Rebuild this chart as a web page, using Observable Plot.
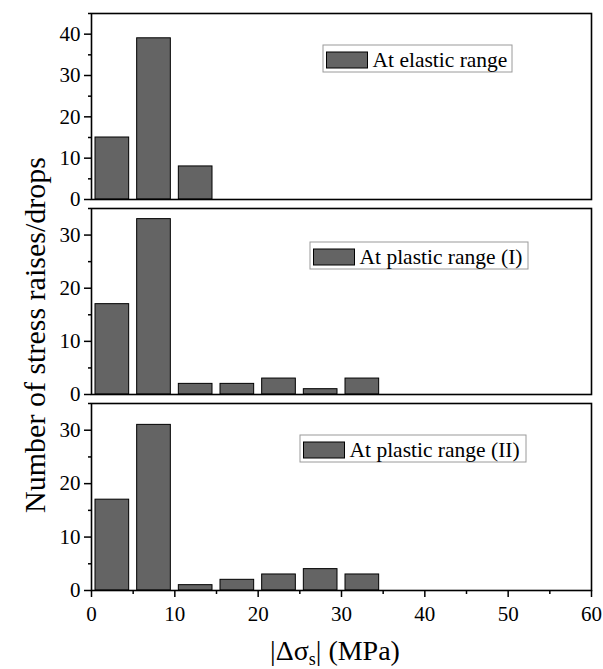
<!DOCTYPE html>
<html>
<head>
<meta charset="utf-8">
<script src="https://cdn.jsdelivr.net/npm/d3@7"></script>
<script src="https://cdn.jsdelivr.net/npm/@observablehq/plot@0.6"></script>
<style>
  html, body { margin: 0; padding: 0; background: white; }
  #wrap { position: relative; width: 603px; height: 669px; }
  #wrap > .panel { position: absolute; left: 0; }
  #overlay { position: absolute; left: 0; top: 0; pointer-events: none; }
</style>
</head>
<body>
<div id="wrap"></div>
<script>
// ---- data ----
const binStarts = [0, 5, 10, 15, 20, 25, 30];
const binWidth = 5;
const elasticCounts = [15, 39, 8];
const plasticICounts = [17, 33, 2, 2, 3, 1, 3];
const plasticIICounts = [17, 31, 1, 2, 3, 4, 3];
const panelLabels = ["At elastic range", "At plastic range (I)", "At plastic range (II)"];
const yDomains = [[0, 45], [0, 35], [0, 35]];
const yMajorTicks = [[0, 10, 20, 30, 40], [0, 10, 20, 30], [0, 10, 20, 30]];
const yMinorTicks = [[5, 15, 25, 35, 45], [5, 15, 25, 35], [5, 15, 25, 35]];
const xMajorTicks = [0, 10, 20, 30, 40, 50, 60];
const xMinorTicks = [5, 15, 25, 35, 45, 55];
const yTitle = "Number of stress raises/drops";

const series = [elasticCounts, plasticICounts, plasticIICounts];
const FONT = "Liberation Serif";
const BAR_FILL = "#646464";

// panel layout: [top offset, height, marginTop, marginBottom]
const layout = [[0, 204, 13, 5], [204, 195, 4, 5], [399, 270, 4, 79]];

const wrap = document.getElementById("wrap");

series.forEach((counts, i) => {
  const data = counts.map((c, j) => ({start: binStarts[j], end: binStarts[j] + binWidth, count: c}));
  const [top, h, mt, mb] = layout[i];
  const isBottom = i === series.length - 1;
  const marks = [
    Plot.rectY(data, {x1: "start", x2: "end", y: "count", fill: BAR_FILL, stroke: "black", strokeWidth: 1, insetLeft: 4, insetRight: 4}),
    Plot.axisY({ticks: yMajorTicks[i], tickSize: 7, tickPadding: 4, label: null, strokeWidth: 1.5, fontFamily: FONT}),
    Plot.axisY({ticks: yMinorTicks[i], tickSize: 3, tickFormat: () => "", label: null, strokeWidth: 1.5}),
    Plot.frame({stroke: "black", strokeWidth: 1.6})
  ];
  if (isBottom) {
    marks.push(Plot.axisX({ticks: xMajorTicks, tickSize: 7, tickPadding: 9, label: null, strokeWidth: 1.5, fontFamily: FONT}));
    marks.push(Plot.axisX({ticks: xMinorTicks, tickSize: 4, tickFormat: () => "", label: null, strokeWidth: 1.5}));
  }
  const chart = Plot.plot({
    width: 603,
    height: h,
    marginLeft: 91,
    marginRight: 12,
    marginTop: mt,
    marginBottom: mb,
    style: {fontFamily: FONT, fontSize: "21px", overflow: "visible", background: "transparent", color: "black"},
    x: {domain: [0, 60], ...(isBottom ? {} : {axis: null})},
    y: {domain: yDomains[i], label: null},
    marks
  });
  chart.classList.add("panel");
  chart.style.top = top + "px";
  wrap.appendChild(chart);
});

// ---- overlay: legends and axis titles ----
const svg = d3.select(wrap).append("svg")
  .attr("id", "overlay")
  .attr("width", 603).attr("height", 669)
  .attr("font-family", FONT);

const legendBoxes = [[323, 45, 189, 27], [310, 242, 218, 27], [300, 435, 226, 27]];
legendBoxes.forEach(([bx, by, bw, bh], i) => {
  const g = svg.append("g");
  g.append("rect").attr("x", bx).attr("y", by).attr("width", bw).attr("height", bh)
    .attr("fill", "white").attr("stroke", "#9a9a9a").attr("stroke-width", 1);
  g.append("rect").attr("x", bx + 3.5).attr("y", by + 7).attr("width", 41).attr("height", 16)
    .attr("fill", BAR_FILL).attr("stroke", "black").attr("stroke-width", 1);
  g.append("text").attr("x", bx + 49.5).attr("y", by + 22).attr("font-size", 21.5)
    .attr("font-family", FONT)
    .attr("fill", "black").text(panelLabels[i]);
});

svg.append("text")
  .attr("transform", "translate(45,335) rotate(-90)")
  .attr("text-anchor", "middle")
  .attr("font-size", 30)
  .attr("font-family", FONT)
  .attr("fill", "black")
  .text(yTitle);

const xt = svg.append("text")
  .attr("x", 335).attr("y", 660)
  .attr("text-anchor", "middle")
  .attr("font-size", 28)
  .attr("font-family", FONT)
  .attr("fill", "black");
xt.append("tspan").text("|Δσ");
xt.append("tspan").attr("font-size", 18).attr("dy", 5).text("s");
xt.append("tspan").attr("dy", -5).text("| (MPa)");
</script>
</body>
</html>
